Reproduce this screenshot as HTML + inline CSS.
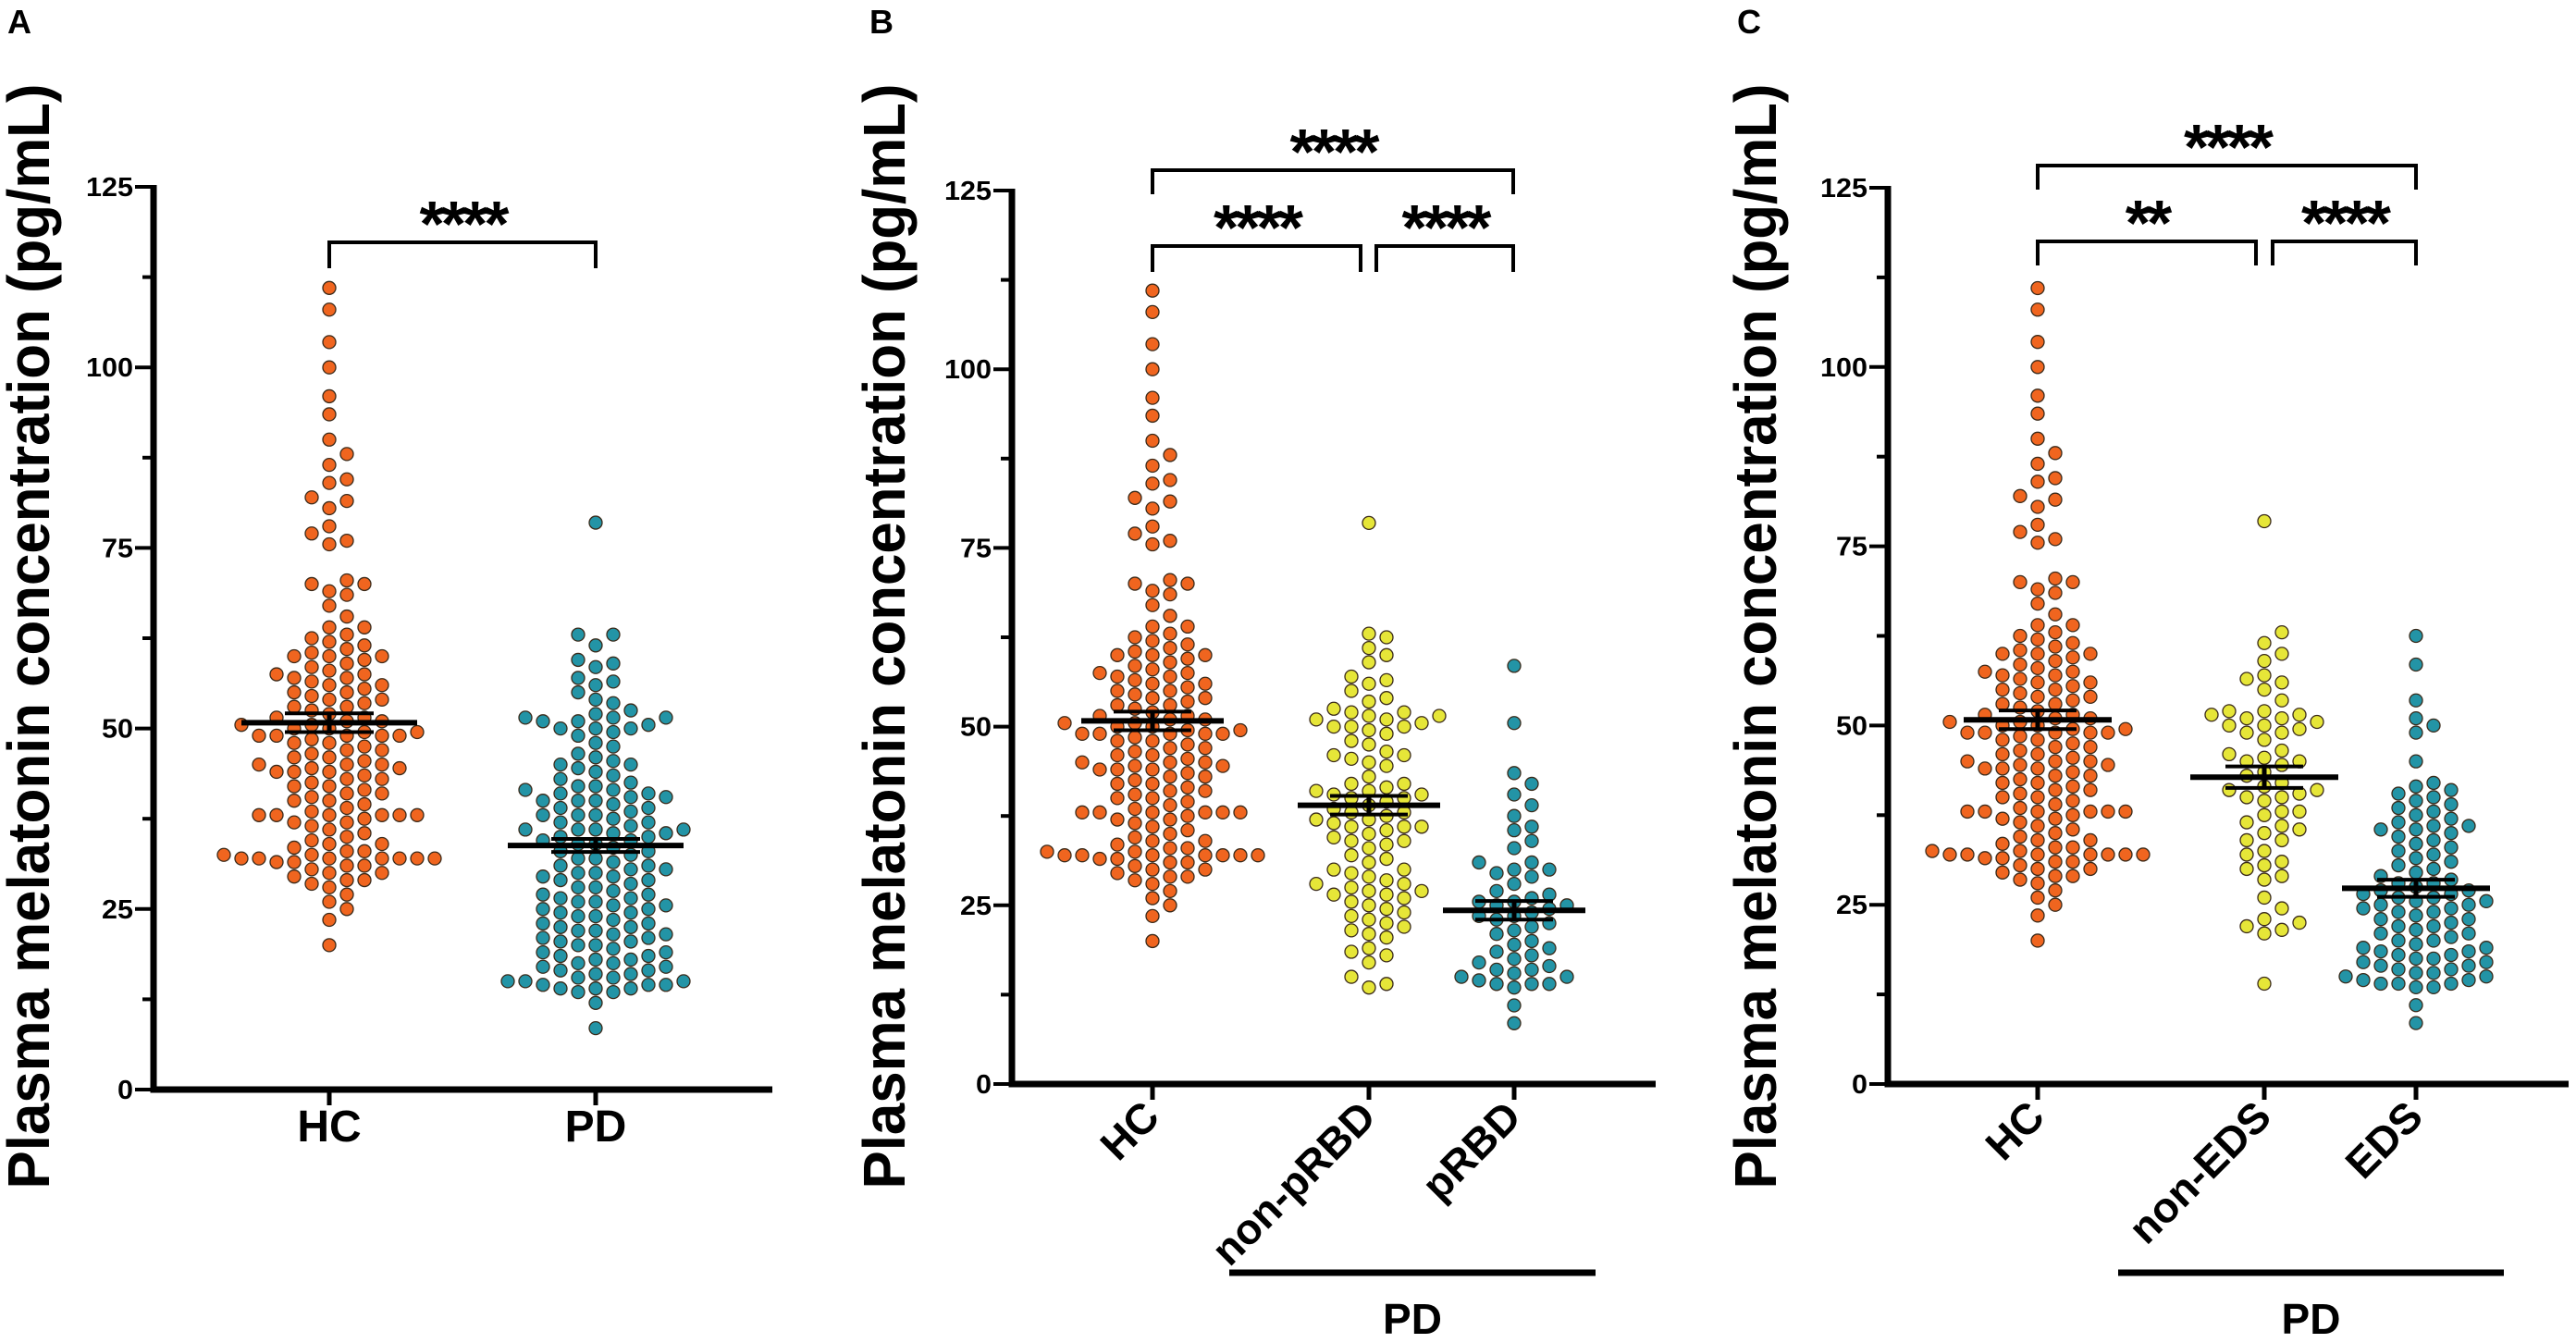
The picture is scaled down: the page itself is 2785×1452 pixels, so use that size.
<!DOCTYPE html>
<html><head><meta charset="utf-8"><style>
html,body{margin:0;padding:0;background:#fff;}
svg{display:block;font-family:"Liberation Sans",Arial,sans-serif;}
</style></head><body>
<svg id="fig" width="2785" height="1452" viewBox="0 0 2785 1452" xmlns="http://www.w3.org/2000/svg"></svg>
<script>
// ---- data ----
const hcValues = [111,108,103.5,100,96,93.5,90,88,86.5,84.5,84,82,81.5,80.5,78,77,76,75.5,70.5,70,70,69,68.5,67,65.5,64,64,63,62.5,62,61.5,61,60.5,60,60,60,59.5,59,58.5,58,57.5,57.5,57,57,56.5,56,56,55.5,55,55,54.5,54,54,53.5,53,53,52.5,52,51.5,51.5,51,51,50.5,50.5,50,50,49.5,49.5,49,49,49,49,49,48.5,48,48,47.5,47,47,46.5,46,46,45.5,45,45,45,44.5,44.5,44,44,44,43.5,43,43,42.5,42,42,41.5,41,41,40.5,40,40,39.5,39,38.5,38,38,38,38,38,38,37.5,37,37,36.5,36,35.5,35,34.5,34,34,33.5,33,33,32.5,32.5,32,32,32,32,32,32,32,31.5,31.5,31,31,30.5,30,30,29.5,29,29,28.5,28,27,26,25,23.5,20];
const pdValues = [78.5,63,63,61.5,59.5,59,58.5,57,56.5,56,55,54,53.5,52.5,52,51.5,51.5,51.5,51,51,50.5,50,50,50,49.5,49,48,47.5,46.5,46,45.5,45,45,44.5,44,43.5,43,42.5,42,42,41.5,41.5,41,41,40.5,40.5,40,40,40,39.5,39,39,38.5,38,38,38,37.5,37,37,36.5,36,36,36,36,35.5,35.5,35,35,34.5,34.5,34,34,33.5,33,33,32.5,32,32,31.5,31,31,30.5,30.5,30,30,29.5,29.5,29,29,28.5,28,28,27.5,27,27,26.5,26.5,26,26,25.5,25.5,25,25,24.5,24.5,24,24,23.5,23,23,22.5,22.5,22,22,21.5,21.5,21,21,20.5,20.5,20,20,19.5,19,19,18.5,18.5,18,18,17.5,17.5,17,17,16.5,16.5,16,16,15.5,15.5,15,15,15,14.5,14.5,14.5,14,14,14,13.5,13.5,12,8.5];
const nonPrbdValues = [78.5,63,62.5,61,60,59,57,56.5,56,55,54,53.5,52.5,52,52,51.5,51.5,51,51,50.5,50,50,50,49.5,49,48,47.5,46.5,46,46,45.5,45,44.5,43,42,42,41.5,41,41,40.5,40.5,40,40,39.5,39,38.5,38,38,37.5,37,37,36.5,36,36,36,35.5,35,34.5,34,34,33.5,33,32,31.5,31,30,30,29.5,29,28.5,28,28,27.5,27,27,26.5,26.5,26,25.5,25,24.5,24,23.5,23,22.5,22,21.5,21,20.5,19,18.5,18,17,15,14,13.5];
const prbdValues = [58.5,50.5,43.5,42,40.5,39,37.5,36,35.5,34,33,31,31,30,30,29.5,29,28,27,26.5,26,25.5,25.5,25,25,24.5,24,23.5,23.5,23,22.5,22,21.5,21,20,19.5,19,18.5,18,17.5,17,16.5,16,16,15.5,15,15,14.5,14,14,14,13.5,11,8.5];
const nonEdsValues = [78.5,63,61.5,60,59,57,56.5,56,55,53.5,52,52,51.5,51.5,51,51,50.5,50,50,49.5,49,49,48,46.5,46,45.5,45,45,44.5,43.5,43,42,41.5,41,41,40.5,40,40,39.5,38,38,37.5,36.5,36,35.5,35,34,34,32.5,32,31,30.5,30,29,28.5,26,24.5,23,22.5,22,21.5,21,14];
const edsValues = [62.5,58.5,53.5,51,50,49,45,42,41.5,41,40.5,40,39.5,39,38.5,38,37.5,37,36.5,36,36,35.5,35.5,35,34.5,34,33.5,33,32.5,32,31.5,31,30.5,30,29.5,29,28.5,28,28,27.5,27,27,26.5,26.5,26,26,25.5,25.5,25,25,24.5,24.5,24,24,23.5,23,23,22.5,22,22,21.5,21,21,20.5,20,20,19.5,19,19,18.5,18.5,18,18,17.5,17.5,17,17,16.5,16.5,16,16,15.5,15.5,15,15,14.5,14.5,14,14,14,13.5,13.5,11,8.5];
const meansA = [50.8,33.8];
const semsA = [1.3,0.9];
const meansB = [50.8,39.0,24.3];
const semsB = [1.3,1.3,1.3];
const meansC = [50.8,42.8,27.3];
const semsC = [1.3,1.5,1.2];
const tickValues = [0,25,50,75,100,125];
const minorTicks = [12.5,37.5,62.5,87.5,112.5];
const catsA = ["HC","PD"];
const catsB = ["HC","non-pRBD","pRBD"];
const catsC = ["HC","non-EDS","EDS"];
const starsA = ["****"];
const starsB = ["****","****","****"];
const starsC = ["****","**","****"];

const NS="http://www.w3.org/2000/svg";
const svg=document.getElementById('fig');
function mk(tag,attrs,parent){const e=document.createElementNS(NS,tag);for(const k in attrs)e.setAttribute(k,attrs[k]);(parent||svg).appendChild(e);return e;}
const ORANGE="#f0651f",TEAL="#2394a6",YELLOW="#e6e638";

function panel(cfg){
  const g=mk('g',{});
  
  
  const y=v=>cfg.y0-(v/125)*(cfg.y0-cfg.y125);
  const L=mk('text',{x:cfg.letterX,y:36,'font-size':36,'font-weight':'bold'},g);L.textContent=cfg.letter;
  
  
  const t=mk('text',{transform:`translate(${cfg.titleX},${688}) rotate(-90)`,'text-anchor':'middle','dominant-baseline':'central','font-size':64,'font-weight':'bold',textLength:1195,lengthAdjust:'spacingAndGlyphs'},g);
  t.textContent="Plasma melatonin concentration (pg/mL)";
  
  
  const ya=mk('line',{x1:cfg.ax,y1:cfg.y125-2,x2:cfg.ax,y2:cfg.y0+3.5,stroke:'#000','stroke-width':7},g);
  
  
  const xa=mk('line',{x1:cfg.ax-3.5,y1:cfg.y0,x2:cfg.xEnd,y2:cfg.y0,stroke:'#000','stroke-width':7},g);
  
  
  tickValues.forEach(v=>{
    mk('line',{x1:cfg.ax-20,y1:y(v),x2:cfg.ax,y2:y(v),stroke:'#000','stroke-width':4},g);
    const tl=mk('text',{x:cfg.ax-22,y:y(v)+10,'text-anchor':'end','font-size':29,'font-weight':'bold',textLength:String(v).length*17,lengthAdjust:'spacingAndGlyphs'},g);
    tl.textContent=v;
    
    
  });
  minorTicks.forEach(v=>mk('line',{x1:cfg.ax-12,y1:y(v),x2:cfg.ax,y2:y(v),stroke:'#000','stroke-width':4},g));
  cfg.cats.forEach((c,i)=>{
    const cx=cfg.xs[i];
    mk('line',{x1:cx,y1:cfg.y0,x2:cx,y2:cfg.y0+17,stroke:'#000','stroke-width':5},g);
    let lab;
    if(cfg.rot){
      lab=mk('text',{transform:`translate(${cx+10},${cfg.y0+38}) rotate(-45)`,'text-anchor':'end','font-size':46,'font-weight':'bold'},g);
    }else{
      lab=mk('text',{x:cx,y:cfg.y0+56,'text-anchor':'middle','font-size':48,'font-weight':'bold'},g);
    }
    lab.textContent=c;
    
    
  });
  // dots: beeswarm with box collision
  cfg.series.forEach((vals,i)=>{
    const cx=cfg.xs[i];const placed=[];const R=7,DX=19,DY=14;
    const sorted=vals.slice().sort((a,b)=>a-b);
    sorted.forEach(v=>{
      const py=y(v);let k=0,px;
      while(true){
        const off=(k===0)?0:(k%2?1:-1)*Math.ceil(k/2)*DX;
        px=cx+off;
        if(placed.every(p=>Math.abs(p[0]-px)>=DX-0.5||Math.abs(p[1]-py)>=DY))break;
        k++;
      }
      placed.push([px,py]);
      const c=mk('circle',{cx:px,cy:py,r:R,fill:cfg.colors[i],stroke:'#3a2a1a','stroke-width':1.3},g);
      
      
    });
  });
  cfg.means.forEach((m,i)=>{
    const cx=cfg.xs[i],s=cfg.sems[i];
    const ml=mk('line',{x1:cx-cfg.half,y1:y(m),x2:cx+cfg.half,y2:y(m),stroke:'#000','stroke-width':6},g);
    
    
    mk('line',{x1:cx,y1:y(m+s),x2:cx,y2:y(m-s),stroke:'#000','stroke-width':5},g);
    mk('line',{x1:cx-cfg.cap,y1:y(m+s),x2:cx+cfg.cap,y2:y(m+s),stroke:'#000','stroke-width':4},g);
    mk('line',{x1:cx-cfg.cap,y1:y(m-s),x2:cx+cfg.cap,y2:y(m-s),stroke:'#000','stroke-width':4},g);
  });
  cfg.brackets.forEach((b,i)=>{
    const p=mk('path',{d:`M${b.x1},${b.y+b.h} V${b.y} H${b.x2} V${b.y+b.h}`,fill:'none',stroke:'#000','stroke-width':4},g);
    
    
    const st=mk('text',{x:(b.x1+b.x2)/2,y:b.y+4,'text-anchor':'middle','font-size':70,'font-weight':'bold','letter-spacing':-4},g);
    st.textContent=cfg.stars[i];
    
    
  });
  if(cfg.pd){
    const pl=mk('line',{x1:cfg.pd[0],y1:1376,x2:cfg.pd[1],y2:1376,stroke:'#000','stroke-width':7},g);
    
    
    const pt=mk('text',{x:(cfg.pd[0]+cfg.pd[1])/2,y:1442,'text-anchor':'middle','font-size':46,'font-weight':'bold'},g);
    pt.textContent="PD";
    
    
  }
}

panel({name:'panel-a',letter:'A',letterX:8,titleX:31,ax:166,y0:1178,y125:202,xEnd:835,xs:[356,644],cats:catsA,rot:false,
  series:[hcValues,pdValues],colors:[ORANGE,TEAL],means:meansA,sems:semsA,half:95,cap:48,
  brackets:[{x1:356,x2:644,y:262,h:28}],stars:starsA});
panel({name:'panel-b',letter:'B',letterX:940,titleX:956,ax:1094,y0:1172,y125:206,xEnd:1790,xs:[1246,1480,1637],cats:catsB,rot:true,
  series:[hcValues,nonPrbdValues,prbdValues],colors:[ORANGE,YELLOW,TEAL],means:meansB,sems:semsB,half:77,cap:42,
  brackets:[{x1:1246,x2:1636,y:184,h:26},{x1:1246,x2:1471,y:266,h:28},{x1:1488,x2:1636,y:266,h:28}],stars:starsB,pd:[1329,1725]});
panel({name:'panel-c',letter:'C',letterX:1878,titleX:1898,ax:2041,y0:1172,y125:203,xEnd:2777,xs:[2203,2448,2612],cats:catsC,rot:true,
  series:[hcValues,nonEdsValues,edsValues],colors:[ORANGE,YELLOW,TEAL],means:meansC,sems:semsC,half:80,cap:42,
  brackets:[{x1:2203,x2:2612,y:179,h:26},{x1:2203,x2:2439,y:261,h:26},{x1:2457,x2:2612,y:261,h:26}],stars:starsC,pd:[2290,2707]});
</script>
</body></html>
